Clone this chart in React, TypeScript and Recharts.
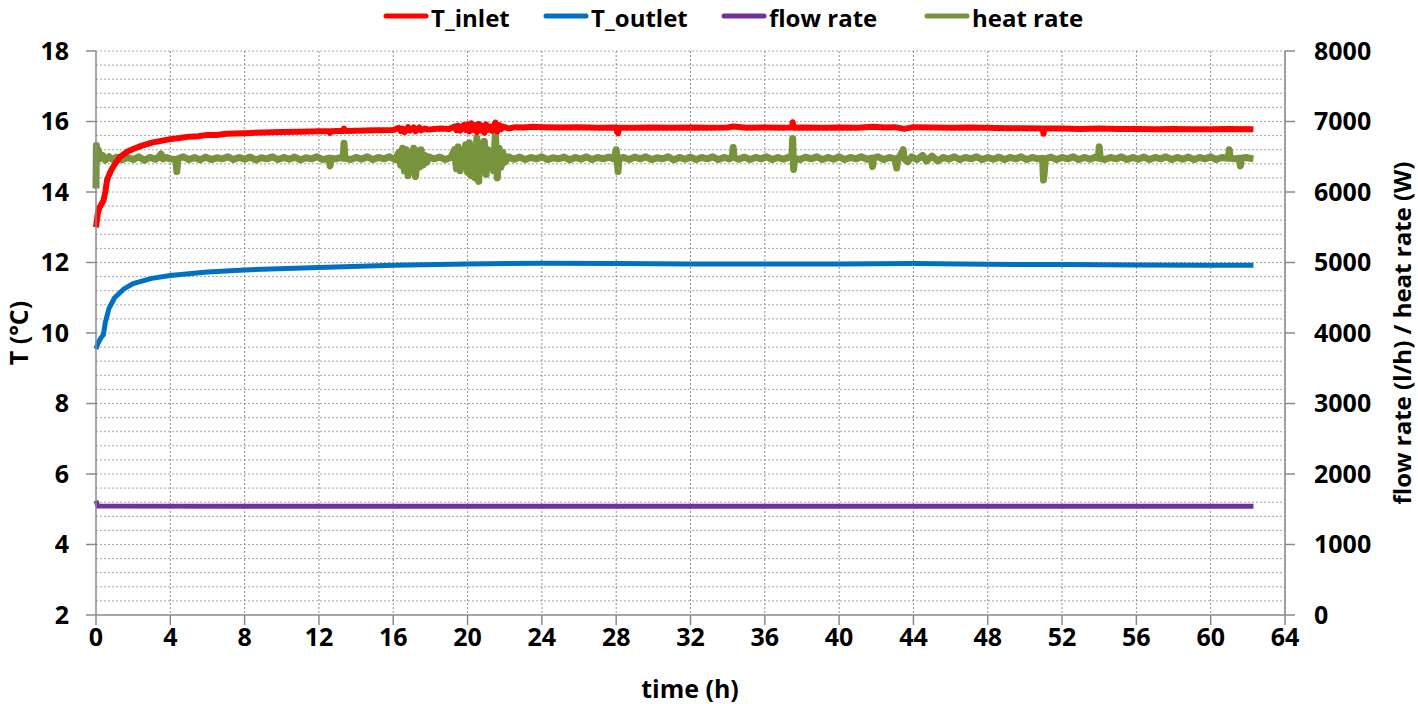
import React from "react";
import { LineChart, Line, XAxis, YAxis, CartesianGrid } from "recharts";

const xTicks = [0, 4, 8, 12, 16, 20, 24, 28, 32, 36, 40, 44, 48, 52, 56, 60, 64];
const leftTicks = [2, 4, 6, 8, 10, 12, 14, 16, 18];
const rightTicks = [0, 1000, 2000, 3000, 4000, 5000, 6000, 7000, 8000];
const minorTempLines = [
  2.4, 2.8, 3.2, 3.6, 4, 4.4, 4.8, 5.2, 5.6, 6, 6.4, 6.8, 7.2, 7.6, 8, 8.4, 8.8, 9.2, 9.6, 10,
  10.4, 10.8, 11.2, 11.6, 12, 12.4, 12.8, 13.2, 13.6, 14, 14.4, 14.8, 15.2, 15.6, 16, 16.4, 16.8,
  17.2, 17.6, 18,
];
const gridHours = [4, 8, 12, 16, 20, 24, 28, 32, 36, 40, 44, 48, 52, 56, 60, 64];

// [time (h), T_inlet (°C)]
const tInlet: [number, number][] = [
  [0, 13.0], [0.1, 13.4], [0.2, 13.57], [0.4, 13.75], [0.5, 14.0], [0.6, 14.35], [0.8, 14.6],
  [1.0, 14.78], [1.3, 15.0], [1.7, 15.15], [2.0, 15.22], [2.4, 15.3], [3.0, 15.4], [3.5, 15.45],
  [4.0, 15.5], [4.5, 15.53], [5, 15.57], [5.5, 15.58], [6, 15.62], [6.5, 15.62], [7, 15.65],
  [7.5, 15.66], [8, 15.67], [9, 15.69], [10, 15.7], [11, 15.71], [12, 15.72], [12.55, 15.72],
  [12.6, 15.68], [12.65, 15.72], [13, 15.73], [13.3, 15.73], [13.35, 15.8], [13.4, 15.73],
  [14, 15.74], [15, 15.75], [16, 15.76], [16.3, 15.82], [16.4, 15.73], [16.5, 15.8], [16.6, 15.7],
  [16.8, 15.84], [16.9, 15.74], [17.1, 15.83], [17.2, 15.72], [17.4, 15.83], [17.5, 15.75],
  [17.7, 15.8], [17.9, 15.77], [18.2, 15.79], [18.6, 15.8], [19, 15.79], [19.3, 15.86],
  [19.4, 15.75], [19.5, 15.88], [19.6, 15.74], [19.8, 15.9], [19.9, 15.76], [20.0, 15.92],
  [20.1, 15.72], [20.2, 15.95], [20.3, 15.76], [20.4, 15.9], [20.5, 15.7], [20.6, 15.93],
  [20.7, 15.75], [20.8, 15.88], [20.9, 15.68], [21.0, 15.92], [21.1, 15.76], [21.2, 15.86],
  [21.3, 15.74], [21.5, 15.97], [21.6, 15.72], [21.7, 15.9], [21.8, 15.78], [21.9, 15.86],
  [22.2, 15.8], [22.6, 15.84], [23, 15.83], [23.5, 15.85], [24, 15.84], [25, 15.83], [26, 15.84],
  [27, 15.82], [28.0, 15.83], [28.05, 15.7], [28.1, 15.67], [28.15, 15.82], [29, 15.82],
  [30, 15.83], [31, 15.82], [32, 15.83], [33, 15.82], [34, 15.83], [34.3, 15.86], [35, 15.82],
  [36, 15.83], [37, 15.82], [37.45, 15.83], [37.5, 15.98], [37.55, 15.82], [38, 15.83],
  [39, 15.82], [40, 15.83], [41, 15.82], [41.8, 15.85], [42.5, 15.83], [43, 15.84], [43.5, 15.79],
  [44, 15.84], [45, 15.83], [46, 15.82], [47, 15.83], [48, 15.82], [49, 15.81], [50, 15.81],
  [50.95, 15.8], [51, 15.65], [51.05, 15.8], [52, 15.8], [53, 15.79], [54, 15.8], [55, 15.79],
  [56, 15.79], [57, 15.78], [58, 15.79], [59, 15.78], [60, 15.78], [61, 15.79], [62.3, 15.78],
];

// [time (h), T_outlet (°C)]
const tOutlet: [number, number][] = [
  [0, 9.55], [0.1, 9.7], [0.25, 9.85], [0.4, 9.95], [0.5, 10.3], [0.7, 10.7], [1, 11.0],
  [1.5, 11.25], [2, 11.4], [3, 11.55], [4, 11.63], [6, 11.73], [8, 11.79], [12, 11.86],
  [16, 11.92], [20, 11.96], [24, 11.98], [28, 11.97], [32, 11.96], [36, 11.96], [40, 11.96],
  [44, 11.97], [48, 11.95], [52, 11.94], [56, 11.93], [60, 11.92], [62.3, 11.92],
];

// [time (h), flow rate (l/h)]
const flowRate: [number, number][] = [
  [0, 1620], [0.1, 1545], [10, 1543], [20, 1544], [30, 1543], [40, 1544], [50, 1543], [62.3, 1543],
];

// [time (h), heat rate (W)]
const heatRate: [number, number][] = [
  [0, 6050], [0.02, 6660], [0.06, 6520], [0.12, 6600], [0.2, 6470], [0.35, 6520], [0.5, 6450],
  [0.7, 6500], [0.9, 6460], [1.1, 6495], [1.4, 6455], [1.7, 6490], [2.0, 6460], [2.3, 6500],
  [2.6, 6450], [2.9, 6490], [3.2, 6465], [3.4, 6500], [3.5, 6540], [3.6, 6470], [3.8, 6490],
  [4.0, 6470], [4.3, 6460], [4.35, 6290], [4.4, 6470], [4.7, 6500], [5.0, 6460], [5.3, 6490],
  [5.6, 6455], [5.9, 6495], [6.2, 6460], [6.5, 6485], [6.8, 6470], [7.1, 6500], [7.4, 6460],
  [7.7, 6490], [8.0, 6465], [8.3, 6495], [8.6, 6455], [8.9, 6485], [9.2, 6470], [9.5, 6500],
  [9.8, 6460], [10.1, 6490], [10.4, 6465], [10.7, 6495], [11.0, 6455], [11.3, 6485], [11.6, 6470],
  [11.9, 6500], [12.2, 6460], [12.55, 6480], [12.6, 6370], [12.65, 6480], [12.9, 6470],
  [13.2, 6490], [13.3, 6480], [13.35, 6690], [13.4, 6480], [13.7, 6460], [14.0, 6490],
  [14.3, 6465], [14.6, 6500], [14.9, 6460], [15.2, 6490], [15.5, 6470], [15.8, 6500], [16.1, 6460],
  [16.3, 6560], [16.4, 6380], [16.5, 6620], [16.6, 6300], [16.7, 6600], [16.8, 6230], [16.9, 6560],
  [17.0, 6400], [17.1, 6620], [17.2, 6220], [17.3, 6580], [17.4, 6350], [17.5, 6600], [17.6, 6380],
  [17.7, 6520], [17.8, 6420], [17.9, 6500], [18.2, 6470], [18.5, 6495], [18.8, 6460], [19.1, 6490],
  [19.3, 6600], [19.4, 6330], [19.5, 6640], [19.6, 6300], [19.7, 6560], [19.8, 6420], [19.9, 6670],
  [20.0, 6280], [20.1, 6700], [20.2, 6230], [20.3, 6620], [20.4, 6200], [20.5, 6770], [20.6, 6150],
  [20.7, 6680], [20.8, 6300], [20.9, 6720], [21.0, 6250], [21.1, 6600], [21.2, 6380], [21.3, 6560],
  [21.4, 6300], [21.5, 6840], [21.6, 6200], [21.7, 6620], [21.8, 6350], [21.9, 6560], [22.0, 6420],
  [22.2, 6500], [22.5, 6465], [22.8, 6495], [23.1, 6460], [23.4, 6490], [23.7, 6470], [24.0, 6500],
  [24.3, 6460], [24.6, 6485], [24.9, 6470], [25.2, 6495], [25.5, 6455], [25.8, 6490], [26.1, 6465],
  [26.4, 6500], [26.7, 6460], [27.0, 6490], [27.3, 6470], [27.6, 6495], [27.9, 6470], [28.0, 6600],
  [28.05, 6470], [28.1, 6290], [28.15, 6470], [28.4, 6490], [28.7, 6460], [29.0, 6495],
  [29.3, 6470], [29.6, 6500], [29.9, 6460], [30.2, 6485], [30.5, 6470], [30.8, 6500], [31.1, 6455],
  [31.4, 6490], [31.7, 6465], [32.0, 6495], [32.3, 6460], [32.6, 6490], [32.9, 6470], [33.2, 6500],
  [33.5, 6460], [33.8, 6490], [34.1, 6470], [34.25, 6500], [34.3, 6630], [34.35, 6490],
  [34.6, 6465], [34.9, 6495], [35.2, 6460], [35.5, 6490], [35.8, 6470], [36.1, 6500], [36.4, 6460],
  [36.7, 6490], [37.0, 6465], [37.3, 6495], [37.45, 6480], [37.5, 6760], [37.55, 6320],
  [37.6, 6480], [37.9, 6460], [38.2, 6495], [38.5, 6470], [38.8, 6500], [39.1, 6460], [39.4, 6490],
  [39.7, 6465], [40.0, 6500], [40.3, 6460], [40.6, 6490], [40.9, 6470], [41.2, 6500], [41.5, 6465],
  [41.75, 6480], [41.8, 6360], [41.85, 6480], [42.1, 6500], [42.4, 6460], [42.7, 6490],
  [43.0, 6470], [43.1, 6340], [43.15, 6470], [43.3, 6520], [43.45, 6600], [43.5, 6470],
  [43.7, 6430], [43.9, 6500], [44.2, 6460], [44.5, 6520], [44.7, 6440], [45.0, 6510], [45.3, 6440],
  [45.6, 6490], [45.9, 6465], [46.2, 6500], [46.5, 6460], [46.8, 6490], [47.1, 6470], [47.4, 6500],
  [47.7, 6460], [48.0, 6490], [48.3, 6465], [48.6, 6495], [48.9, 6460], [49.2, 6490], [49.5, 6470],
  [49.8, 6500], [50.1, 6460], [50.4, 6490], [50.7, 6470], [50.95, 6480], [51.0, 6170],
  [51.05, 6300], [51.1, 6470], [51.4, 6495], [51.7, 6460], [52.0, 6490], [52.3, 6470], [52.6, 6500],
  [52.9, 6460], [53.2, 6490], [53.5, 6465], [53.8, 6495], [53.95, 6480], [54.0, 6640], [54.05, 6480],
  [54.3, 6460], [54.6, 6490], [54.9, 6470], [55.2, 6500], [55.5, 6460], [55.8, 6490], [56.1, 6465],
  [56.4, 6495], [56.7, 6460], [57.0, 6490], [57.3, 6470], [57.6, 6500], [57.9, 6460], [58.2, 6490],
  [58.5, 6465], [58.8, 6495], [59.1, 6460], [59.4, 6490], [59.7, 6470], [60.0, 6500], [60.3, 6460],
  [60.6, 6490], [60.95, 6480], [61.0, 6600], [61.05, 6480], [61.3, 6470], [61.55, 6480],
  [61.6, 6370], [61.65, 6480], [61.9, 6490], [62.3, 6470],
];

const toRows = (arr: [number, number][]) => arr.map(([t, v]) => ({ t, v }));

const FONT = "'Open Sans', 'Noto Sans', sans-serif";
const AXIS_COLOR = "#8a8a8a";
const tickStyle = { fontFamily: FONT, fontWeight: 700, fontSize: 25, fill: "#000" };

const legendItems = [
  { name: "T_inlet", color: "#ff0000", left: 384 },
  { name: "T_outlet", color: "#0070c0", left: 544 },
  { name: "flow rate", color: "#7030a0", left: 722 },
  { name: "heat rate", color: "#77933c", left: 925 },
];

function AxisTitle(props: any) {
  const { cx, cy, rot, text, size } = props;
  return (
    <text
      x={cx}
      y={cy}
      transform={rot ? `rotate(${rot} ${cx} ${cy})` : undefined}
      textAnchor="middle"
      dominantBaseline="central"
      style={{ fontFamily: FONT, fontWeight: 700, fontSize: size || 25, fill: "#000" }}
    >
      {text}
    </text>
  );
}

export default function App() {
  return (
    <div style={{ position: "absolute", left: 0, top: 0, width: 1418, height: 704, background: "#fff" }}>
      <LineChart width={1418} height={704} margin={{ top: 51, right: 0, bottom: 0, left: 0 }}>
        <CartesianGrid
          yAxisId="left"
          vertical={false}
          horizontalValues={minorTempLines}
          stroke="#a6a6a6"
          strokeDasharray="2 2"
        />
        <CartesianGrid
          yAxisId="left"
          horizontal={false}
          verticalValues={gridHours}
          stroke="#8c8c8c"
          strokeDasharray="2 2"
        />
        <XAxis
          dataKey="t"
          type="number"
          domain={[0, 64]}
          ticks={xTicks}
          allowDuplicatedCategory={false}
          height={89}
          tickSize={10}
          tickMargin={3}
          stroke={AXIS_COLOR}
          strokeWidth={1.5}
          tick={tickStyle}
          interval={0}
          label={<AxisTitle cx={690} cy={688} text="time (h)" />}
        />
        <YAxis
          yAxisId="left"
          orientation="left"
          type="number"
          domain={[2, 18]}
          ticks={leftTicks}
          width={96}
          tickSize={10}
          tickMargin={17}
          stroke={AXIS_COLOR}
          strokeWidth={1.5}
          tick={tickStyle}
          interval={0}
          label={<AxisTitle cx={18} cy={333} rot={-90} text="T (°C)" />}
        />
        <YAxis
          yAxisId="right"
          orientation="right"
          type="number"
          domain={[0, 8000]}
          ticks={rightTicks}
          width={133}
          tickSize={10}
          tickMargin={19}
          stroke={AXIS_COLOR}
          strokeWidth={1.5}
          tick={tickStyle}
          interval={0}
          label={<AxisTitle cx={1401} cy={333} rot={-90} size={24} text="flow rate (l/h) / heat rate (W)" />}
        />
        <Line
          yAxisId="right"
          data={toRows(flowRate)}
          dataKey="v"
          stroke="#7030a0"
          strokeWidth={5}
          dot={false}
          isAnimationActive={false}
          name="flow rate"
        />
        <Line
          yAxisId="left"
          data={toRows(tOutlet)}
          dataKey="v"
          stroke="#0070c0"
          strokeWidth={5}
          dot={false}
          isAnimationActive={false}
          name="T_outlet"
        />
        <Line
          yAxisId="right"
          data={toRows(heatRate)}
          dataKey="v"
          stroke="#77933c"
          strokeWidth={7}
          strokeLinejoin="round"
          dot={false}
          isAnimationActive={false}
          name="heat rate"
        />
        <Line
          yAxisId="left"
          data={toRows(tInlet)}
          dataKey="v"
          stroke="#ff0000"
          strokeWidth={6}
          strokeLinejoin="round"
          dot={false}
          isAnimationActive={false}
          name="T_inlet"
        />
      </LineChart>
      <svg
        width={1418}
        height={36}
        style={{ position: "absolute", left: 0, top: 0, pointerEvents: "none" }}
      >
        {legendItems.map((it) => (
          <g key={it.name}>
            <line
              x1={it.left + 2}
              y1={16}
              x2={it.left + 42}
              y2={16}
              stroke={it.color}
              strokeWidth={5}
              strokeLinecap="round"
            />
            <text
              x={it.left + 47}
              y={17}
              dominantBaseline="central"
              style={{ fontFamily: FONT, fontWeight: 700, fontSize: 24, fill: "#000" }}
            >
              {it.name}
            </text>
          </g>
        ))}
      </svg>
    </div>
  );
}
